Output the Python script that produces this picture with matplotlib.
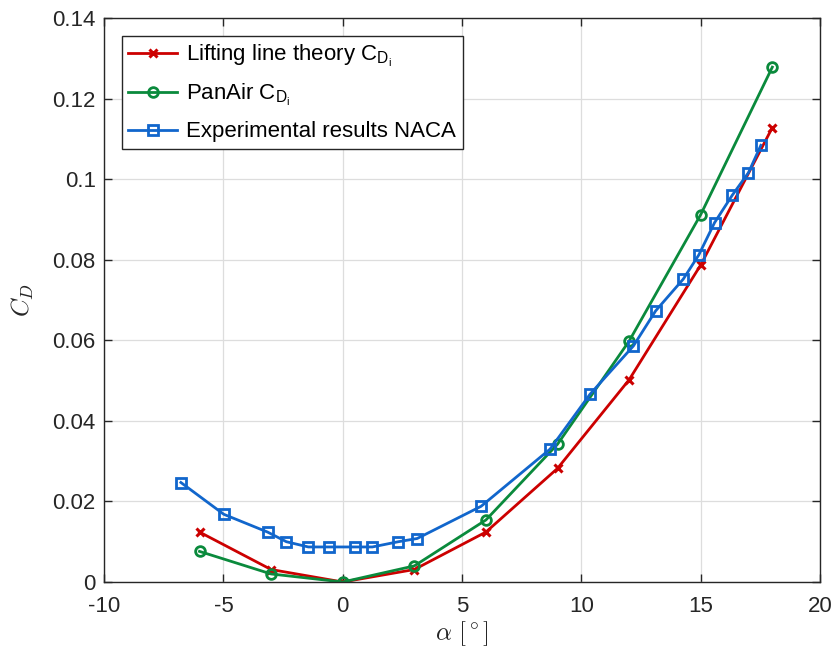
import matplotlib
matplotlib.use("Agg")
import matplotlib.pyplot as plt

# Data
llt_alpha = [-6, -3, 0, 3, 6, 9, 12, 15, 18]
llt_cd = [0.0124, 0.0031, 0.0, 0.0031, 0.0124, 0.0282, 0.0502, 0.0787, 0.1128]

pan_alpha = [-6, -3, 0, 3, 6, 9, 12, 15, 18]
pan_cd = [0.0076, 0.0020, 0.0, 0.0040, 0.0154, 0.0342, 0.0598, 0.0912, 0.1278]

exp_alpha = [-6.78, -4.98, -3.15, -2.36, -1.44, -0.57, 0.5, 1.24, 2.33, 3.12,
             5.80, 8.69, 10.36, 12.18, 13.11, 14.27, 14.92, 15.58, 16.32, 17.0, 17.52]
exp_cd = [0.0247, 0.0168, 0.0124, 0.0100, 0.0087, 0.0087, 0.0087, 0.0087, 0.0100, 0.0108,
          0.0188, 0.0330, 0.0466, 0.0586, 0.0673, 0.0752, 0.0812, 0.0892, 0.0960, 0.1016, 0.1084]

xticks = [-10, -5, 0, 5, 10, 15, 20]
yticks = [0, 0.02, 0.04, 0.06, 0.08, 0.1, 0.12, 0.14]
ytick_labels = ['0', '0.02', '0.04', '0.06', '0.08', '0.1', '0.12', '0.14']

labels = ["Lifting line theory $\\mathrm{C_{D_i}}$",
          "PanAir $\\mathrm{C_{D_i}}$",
          "Experimental results NACA"]

plt.rcParams['font.family'] = ['Liberation Sans', 'DejaVu Sans']
plt.rcParams['mathtext.fontset'] = 'custom'
plt.rcParams['mathtext.rm'] = 'Liberation Sans'
plt.rcParams['mathtext.it'] = 'Liberation Sans:italic'
plt.rcParams['axes.unicode_minus'] = False

fig = plt.figure(figsize=(8.35, 6.5), dpi=100)
ax = fig.add_axes([0.1246, 0.1046, 0.8575, 0.8677])

red = '#CC0000'
green = '#0A8A3C'
blue = '#1166CC'

ax.plot(llt_alpha, llt_cd, color=red, lw=2, marker='x', ms=6, mew=2.2, label=labels[0])
ax.plot(pan_alpha, pan_cd, color=green, lw=2, marker='o', ms=7, mew=2,
        mfc='none', label=labels[1])
ax.plot(exp_alpha, exp_cd, color=blue, lw=2, marker='s', ms=7, mew=2,
        mfc='none', label=labels[2])

ax.set_xlim(-10, 20)
ax.set_ylim(0, 0.14)
ax.set_xticks(xticks)
ax.set_xticklabels([str(v) for v in xticks])
ax.set_yticks(yticks)
ax.set_yticklabels(ytick_labels)
ax.grid(True, color='#DDDDDD', lw=0.9)
ax.set_axisbelow(True)
ax.tick_params(direction='in', top=True, right=True, labelsize=16, colors='#262626',
               length=6, width=1)
ax.tick_params(axis='x', pad=10)
ax.tick_params(axis='y', pad=6)
for s in ax.spines.values():
    s.set_color('#262626')
    s.set_linewidth(1)

xl = ax.set_xlabel(r'$\alpha\ [^\circ]$', fontsize=18, color='#262626', labelpad=2)
xl.set_math_fontfamily('cm')
yl = ax.set_ylabel(r'$C_D$', fontsize=18, color='#262626', labelpad=12)
yl.set_math_fontfamily('cm')

leg = ax.legend(loc='upper left', fontsize=16, frameon=True, fancybox=False,
                edgecolor='#262626', framealpha=1, borderaxespad=0.8,
                handlelength=2.2, handletextpad=0.4, borderpad=0.3, labelspacing=0.6)
leg.get_frame().set_linewidth(1)

fig.savefig('out.png', dpi=100)
